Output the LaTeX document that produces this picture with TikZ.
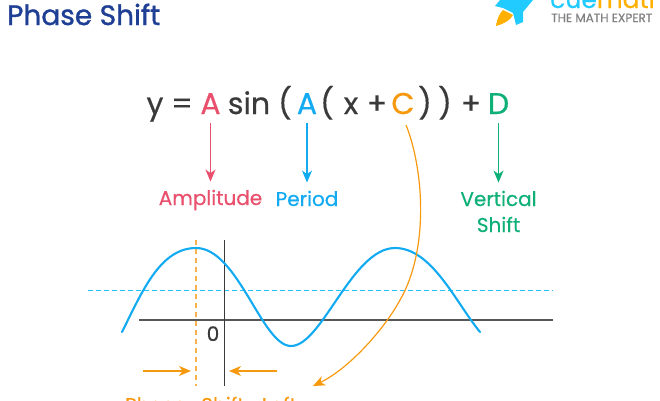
\documentclass[tikz,border=0pt]{standalone}
\usepackage{fontspec}
\setmainfont{Poppins}[RawFeature={embolden=0.5}]
\newfontfamily\titlefont{Poppins}[RawFeature={embolden=1.2}]
\usetikzlibrary{arrows.meta}
\definecolor{redc}{HTML}{E8506E}
\definecolor{bluec}{HTML}{12ABF2}
\definecolor{greenc}{HTML}{0FB077}
\definecolor{orangec}{HTML}{F7990F}
\definecolor{inkc}{HTML}{3A3A3A}
\definecolor{titlec}{HTML}{1F3F94}
\definecolor{cyanc}{HTML}{22CBFF}
\definecolor{flamec}{HTML}{FFB000}
\newcommand{\fs}[1]{\fontsize{#1}{#1}\selectfont}
\tikzset{
  x=1pt,y=-1pt,
  txt/.style={inner sep=0pt,anchor=base},
  formula/.style={txt,text=inkc,font=\fs{30}},
  lab/.style={txt,font=\fs{20}},
  tip/.style={-{Stealth[length=12pt,width=10pt,inset=3.5pt]}},
  down/.style={tip,line width=1.3pt,shorten >=8pt,shorten <=9pt},
}
\begin{document}
\begin{tikzpicture}
\useasboundingbox (0,0) rectangle (660,400);
\clip (0,0) rectangle (660,400);
% header
\node[txt,anchor=base west,text=titlec,font=\titlefont\fs{28}] (title) at (7,25) {Phase Shift};
\fill[cyanc] (495,6) -- (500,0) -- (533,0) -- (523,12) -- (523,22) -- (516,25) -- (513,13) -- (503,8) -- cycle;
\fill[flamec] (496,26) .. controls (497,18) and (500,13) .. (503,10) -- (513,15) .. controls (510,21) and (503,24) .. (496,26) -- cycle;
\node[txt,anchor=base west,font=\fs{25}] (logo) at (550,8) {\textcolor{cyanc}{cue}\textcolor{flamec}{math}};
\node[txt,anchor=base west,text=gray,font=\fs{12}] (tag) at (551,22) {THE MATH EXPERT};
% formula
\node[formula] (fy) at (155,114) {y};
\node[formula] (feq) at (182,114) {=};
\node[formula,text=redc] (fA) at (210.5,114) {A};
\node[formula] (fsin) at (249,114) {sin};
\node[formula] (fp1) at (285,114) {(};
\node[formula,text=bluec] (fB) at (307,114) {A};
\node[formula] (fp2) at (327,114) {(};
\node[formula] (fx) at (351,114) {x};
\node[formula] (fplus) at (377,114) {+};
\node[formula,text=orangec] (fC) at (403,114) {C};
\node[formula] (fp3) at (425,114) {)};
\node[formula] (fp4) at (445,114) {)};
\node[formula] (fplus2) at (471,114) {+};
\node[formula,text=greenc] (fD) at (498.5,114) {D};
% labels
\node[lab,text=redc] (amp) at (210.5,205) {Amplitude};
\node[lab,text=bluec] (per) at (307,206) {Period};
\node[lab,text=greenc] (ver) at (498.5,206) {Vertical};
\node[lab,text=greenc] (shi) at (498.5,232) {Shift};
\draw[down,redc] (fA.south) -- (amp.north);
\draw[down,bluec] (fB.south) -- (per.north);
\draw[down,greenc] (fD.south) -- (ver.north);
% graph
\coordinate (axl) at (139,320); \coordinate (axr) at (553,320);
\coordinate (ayt) at (224.7,240); \coordinate (ayb) at (224.7,386);
\coordinate (dl) at (88,290.6); \coordinate (dr) at (553,290.6);
\coordinate (pt) at (196,240); \coordinate (pb) at (196,386);
\draw[cyanc!80!bluec,line width=.9pt,dash pattern=on 5pt off 3pt] (dl) -- (dr);
\draw[inkc!85,line width=1.3pt] (axl) -- (axr);
\draw[inkc,line width=1.1pt] (ayt) -- (ayb);
\draw[orangec!75,line width=1.5pt,dash pattern=on 5pt off 4pt] (pt) -- (pb);
\draw[bluec,line width=2.1pt,line cap=round] (122,332) .. controls (142,292) and (160,248) .. (196,248) .. controls (238,248) and (262,346) .. (291,346) .. controls (322,346) and (352,248) .. (395,248) .. controls (432,248) and (456,303) .. (480,332);
\node[txt,text=inkc,font=\fs{20}] (zero) at (213,341) {0};
% phase label
\node[lab,anchor=base west,text=orangec] (ph) at (125,412) {Phase\hspace{10pt} Shift\hspace{12pt} Left};
\coordinate (a1) at (143,371); \coordinate (a2) at (191,371);
\coordinate (b1) at (277,371); \coordinate (b2) at (229,371);
\coordinate (cstart) at (406,125);
\coordinate (cend) at (313,386);
\draw[tip,orangec,line width=1.3pt] (a1) -- (a2);
\draw[tip,orangec,line width=1.3pt] (b1) -- (b2);
\draw[tip,orangec,line width=1.2pt] (cstart) .. controls (424,170) and (429,250) .. (400,300) .. controls (385,328) and (350,368) .. (cend);
\end{tikzpicture}
\end{document}
